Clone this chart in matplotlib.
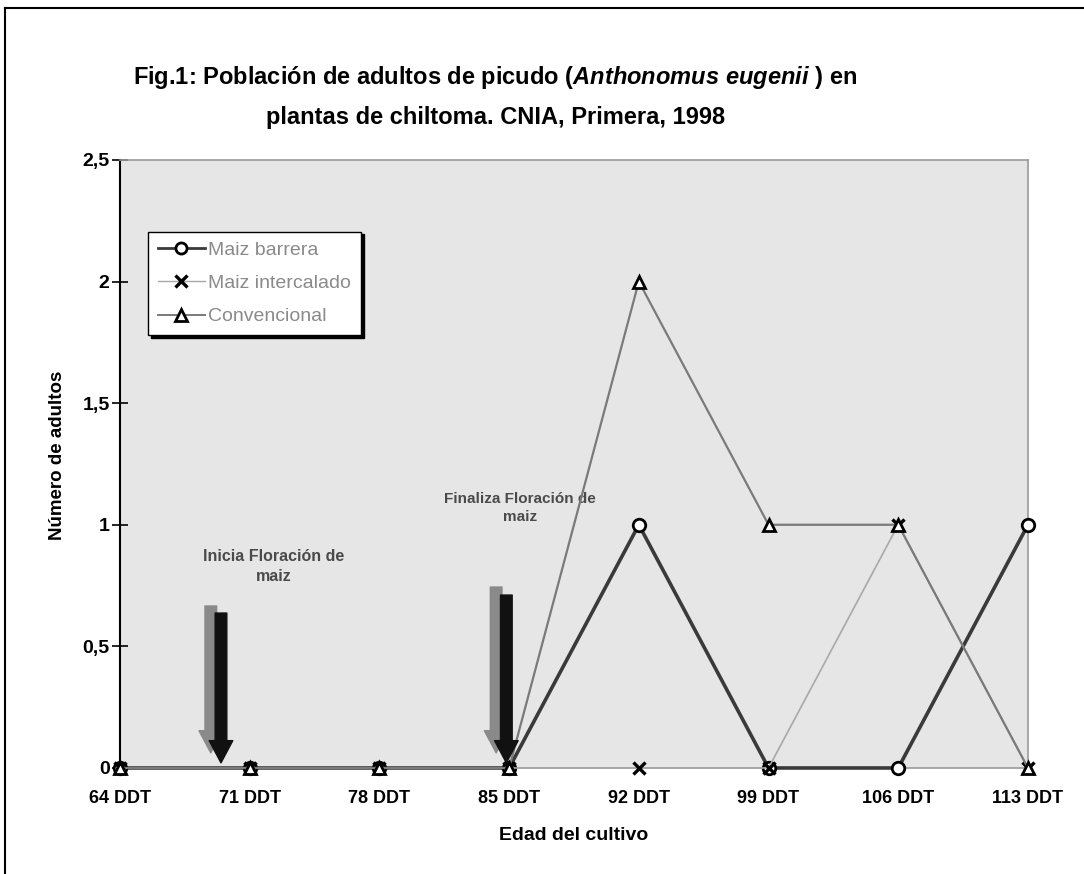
import matplotlib.pyplot as plt
from matplotlib.patches import FancyArrowPatch
from matplotlib.lines import Line2D

plt.rcParams['font.family'] = ['Liberation Sans', 'DejaVu Sans']
plt.rcParams['mathtext.fontset'] = 'custom'
plt.rcParams['mathtext.it'] = 'Liberation Sans:italic:bold'
plt.rcParams['mathtext.rm'] = 'Liberation Sans:bold'

# datos
dias = [64, 71, 78, 85, 92, 99, 106, 113]
etiquetas_x = ["64 DDT", "71 DDT", "78 DDT", "85 DDT", "92 DDT", "99 DDT", "106 DDT", "113 DDT"]
maiz_barrera = [0, 0, 0, 0, 1, 0, 0, 1]
maiz_intercalado = [0, 0, 0, 0, 0, 0, 1, 0]
convencional = [0, 0, 0, 0, 2, 1, 1, 0]
ticks_y = [0, 0.5, 1, 1.5, 2, 2.5]
etiquetas_y = ["0", "0,5", "1", "1,5", "2", "2,5"]

fig = plt.figure(figsize=(10.84, 8.74), dpi=100)
ax = fig.add_axes([0.1107, 0.1213, 0.8376, 0.6957])
ax.set_facecolor("#e6e6e6")

ax.plot(dias, maiz_barrera, color="#3a3a3a", lw=2.6, marker="o", ms=9,
        mfc="white", mec="black", mew=2, clip_on=False, zorder=3)
ax.plot(dias, maiz_intercalado, color="#a8a8a8", lw=1.2, marker="x", ms=9,
        mec="black", mew=2.4, clip_on=False, zorder=4)
ax.plot(dias, convencional, color="#7a7a7a", lw=1.6, marker="^", ms=9,
        mfc="white", mec="black", mew=2, clip_on=False, zorder=5)

ax.set_xlim(dias[0], dias[-1])
ax.set_ylim(0, 2.5)
ax.set_xticks(dias)
ax.set_xticklabels(etiquetas_x, fontsize=13, fontweight="bold")
ax.set_yticks(ticks_y)
ax.set_yticklabels(etiquetas_y, fontsize=14, fontweight="bold")
ax.tick_params(axis="x", length=0, pad=16)
ax.tick_params(axis="y", direction="inout", length=11, width=1.2, pad=2)

ax.spines["left"].set_color("black")
ax.spines["left"].set_linewidth(1.5)
for s in ["top", "right", "bottom"]:
    ax.spines[s].set_color("#9a9a9a")
    ax.spines[s].set_linewidth(1.2)

ax.set_xlabel("Edad del cultivo", fontsize=14, fontweight="bold", labelpad=14)
ax.set_ylabel("Número de adultos", fontsize=13.5, fontweight="bold")
ax.yaxis.set_label_coords(-0.06, 0.515)

# flechas de floración
def flecha(x0, y0, y1, color):
    p = FancyArrowPatch((x0, y0), (x0, y1),
                        arrowstyle="simple,tail_width=0.42,head_width=0.85,head_length=0.8",
                        mutation_scale=20, color=color, shrinkA=0, shrinkB=0, zorder=6)
    ax.add_patch(p)

flecha(68.9, 0.666, 0.062, "#8a8a8a")
flecha(69.45, 0.637, 0.021, "#111111")
flecha(84.3, 0.744, 0.062, "#8a8a8a")
flecha(84.85, 0.711, 0.021, "#111111")

ax.text(72.3, 0.83, "Inicia Floración de\nmaiz", ha="center", va="center",
        fontsize=11.5, fontweight="bold", color="#4a4a4a", linespacing=1.4)
ax.text(85.6, 1.07, "Finaliza Floración de\nmaiz", ha="center", va="center",
        fontsize=11, fontweight="bold", color="#4a4a4a", linespacing=1.4)

handles = [
    Line2D([], [], color="#3a3a3a", lw=2, marker="o", ms=8, mfc="white", mec="black", mew=2),
    Line2D([], [], color="#a8a8a8", lw=1, marker="x", ms=8, mec="black", mew=2.4),
    Line2D([], [], color="#7a7a7a", lw=1.4, marker="^", ms=8, mfc="white", mec="black", mew=2),
]
leg = ax.legend(handles, ["Maiz barrera", "Maiz intercalado", "Convencional"],
                loc="upper left", bbox_to_anchor=(0.031, 0.882), borderaxespad=0,
                fontsize=14, frameon=True, fancybox=False,
                shadow={"color": "black", "alpha": 1},
                handlelength=2.4, handletextpad=0.2, borderpad=0.5, labelspacing=0.8)
leg.get_frame().set_edgecolor("black")
leg.get_frame().set_linewidth(1)
for t in leg.get_texts():
    t.set_color("#8a8a8a")

fig.text(0.457, 0.911, "Fig.1: Población de adultos de picudo ($\\mathit{Anthonomus\\ eugenii}$ ) en",
         ha="center", va="center", fontsize=17, fontweight="bold")
fig.text(0.457, 0.866, "plantas de chiltoma. CNIA, Primera, 1998",
         ha="center", va="center", fontsize=17, fontweight="bold")

# marco de la figura
fig.add_artist(Line2D([0.005, 1.0], [0.991, 0.991], color="black", lw=1.5))
fig.add_artist(Line2D([0.005, 0.005], [0.0, 0.991], color="black", lw=1.5))

fig.savefig("out.png", dpi=100)
